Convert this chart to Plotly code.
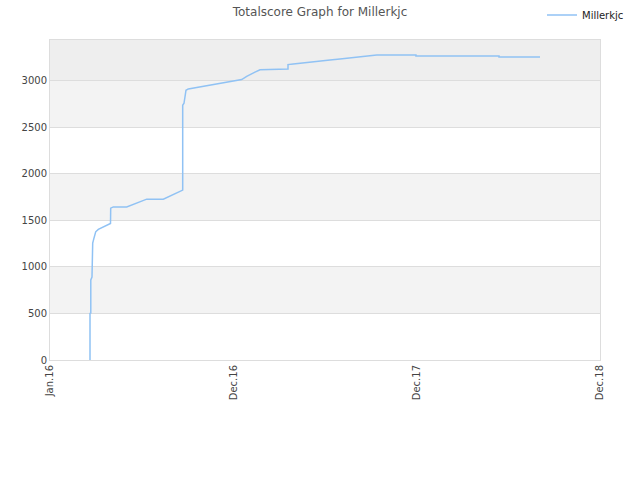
import plotly.graph_objects as go

# x positions in axis units (0 = Jan.16, 1 = Dec.16, 2 = Dec.17, 3 = Dec.18)
x_pos = [0.2182, 0.2182, 0.2225, 0.2225, 0.2291, 0.2329, 0.2395, 0.2493, 0.2635,
         0.3300, 0.3311, 0.3453, 0.4184, 0.4544, 0.5275, 0.6180, 0.6545, 0.7238,
         0.7238, 0.7309, 0.7418, 0.7544, 1.0457, 1.0729, 1.1182, 1.1455, 1.2982,
         1.2982, 1.3271, 1.3729, 1.4275, 1.4727, 1.5273, 1.5818, 1.6271, 1.6817,
         1.7275, 1.7820, 1.9961, 1.9961, 2.4491, 2.4491, 2.6727]
score = [0, 501, 505, 860, 891, 1257, 1307, 1378, 1404,
         1468, 1632, 1646, 1646, 1675, 1729, 1729, 1765, 1826,
         2739, 2760, 2900, 2914, 3015, 3050, 3095, 3120, 3128,
         3176, 3183, 3194, 3204, 3215, 3225, 3236, 3247, 3257,
         3268, 3279, 3279, 3268, 3268, 3257, 3257]

tick_vals = [0, 1, 2, 3]
tick_text = ["Jan.16", "Dec.16", "Dec.17", "Dec.18"]
y_ticks = [0, 500, 1000, 1500, 2000, 2500, 3000]
band_edges = [0, 500, 1000, 1500, 2000, 2500, 3000, 3440]
band_colors = ["#ffffff", "#f3f3f3", "#ffffff", "#f3f3f3", "#ffffff", "#f3f3f3", "#eeeeee"]

fig = go.Figure()
fig.add_trace(go.Scatter(x=x_pos, y=score, mode="lines", name="Millerkjc",
                         line=dict(color="#90c2f4", width=1.5)))

shapes = []
for i, c in enumerate(band_colors):
    shapes.append(dict(type="rect", xref="paper", yref="y", x0=0, x1=1,
                       y0=band_edges[i], y1=band_edges[i + 1],
                       fillcolor=c, line=dict(width=0), layer="below"))

fig.update_layout(
    width=640, height=480,
    margin=dict(l=50, r=40, t=40, b=120, autoexpand=False),
    paper_bgcolor="white", plot_bgcolor="white",
    shapes=shapes,
    title=dict(text="Totalscore Graph for Millerkjc", x=0.5, xanchor="center",
               xref="container", yref="container",
               y=1 - 12 / 480, yanchor="middle",
               font=dict(family="DejaVu Sans", size=12, color="#555555")),
    showlegend=True,
    legend=dict(xref="container", yref="container",
                x=542 / 640, xanchor="left", y=1 - 15 / 480, yanchor="middle",
                font=dict(family="DejaVu Sans", size=10, color="#222222"),
                bgcolor="rgba(0,0,0,0)", itemwidth=30),
    font=dict(family="DejaVu Sans", size=10, color="#444444"),
)
fig.update_xaxes(range=[0, 3], tickvals=tick_vals, ticktext=tick_text,
                 tickangle=-90, showgrid=False, zeroline=False, automargin=False,
                 showline=True, linecolor="#dddddd", mirror=True,
                 ticks="", tickfont=dict(size=10, color="#444444"))
fig.update_yaxes(range=[0, 3440], tickvals=y_ticks, showgrid=True,
                 gridcolor="#dddddd", zeroline=False, automargin=False,
                 showline=True, linecolor="#dddddd", mirror=True,
                 ticks="", tickfont=dict(size=10, color="#444444"))

fig.write_html("out.html", config={"displayModeBar": False},
               post_script="document.body.style.margin='0px';")
